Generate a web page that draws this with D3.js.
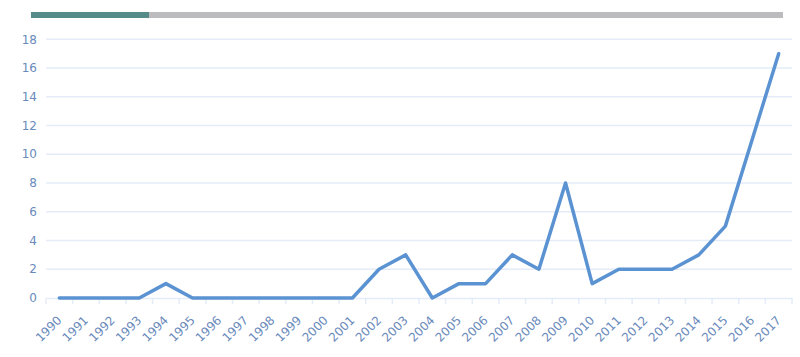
<!DOCTYPE html>
<html><head><meta charset="utf-8">
<script src="https://cdn.jsdelivr.net/npm/d3@7"></script>
<style>body{margin:0;background:#fff}svg{display:block}</style>
</head><body>
<script>
const years = ["1990","1991","1992","1993","1994","1995","1996","1997","1998","1999","2000","2001","2002","2003","2004","2005","2006","2007","2008","2009","2010","2011","2012","2013","2014","2015","2016","2017"];
const values = [0,0,0,0,1,0,0,0,0,0,0,0,2,3,0,1,1,3,2,8,1,2,2,2,3,5,11,17];
const yTicks = [0,2,4,6,8,10,12,14,16,18];

(function(){
const W=800,H=357;
const svg=d3.select("body").append("svg").attr("width",W).attr("height",H);
const mLeft=46,mRight=792,mTop=39.3,mBottom=298;
const x=d3.scaleBand().domain(years).range([mLeft,mRight]);
const y=d3.scaleLinear().domain([0,18]).range([mBottom,mTop]);

// top progress bar
svg.append("rect").attr("x",31).attr("y",12).attr("width",752).attr("height",6).attr("fill","#bcbcbe");
svg.append("rect").attr("x",31).attr("y",12).attr("width",118).attr("height",6).attr("fill","#558c8a");

// grid
svg.append("g").selectAll("line").data(yTicks.filter(d=>d>0)).join("line")
 .attr("x1",mLeft).attr("x2",mRight).attr("y1",d=>y(d)).attr("y2",d=>y(d))
 .attr("stroke","#e4ecf8").attr("stroke-width",1.5);

// y labels
svg.append("g").selectAll("text").data(yTicks).join("text")
 .attr("x",37).attr("y",d=>y(d)).attr("dy","0.35em").attr("text-anchor","end")
 .attr("font-family","DejaVu Sans").attr("font-size",12).attr("fill","#6a8abb").text(d=>d);

// x axis
const xa=svg.append("g").attr("transform",`translate(0,${mBottom})`)
 .call(d3.axisBottom(x).tickSize(0).tickFormat(""));
xa.select(".domain").attr("stroke","#e4ecf8").attr("stroke-width",1.5);
const bounds=years.map(d=>x(d)).concat([mRight]);
xa.selectAll("line.b").data(bounds).join("line").attr("class","b")
 .attr("x1",d=>d).attr("x2",d=>d).attr("y1",0).attr("y2",6)
 .attr("stroke","#e4ecf8").attr("stroke-width",1.5);
svg.append("g").selectAll("text").data(years).join("text")
 .attr("transform",d=>`translate(${x(d)+x.bandwidth()/2+3},${mBottom+23}) rotate(-45)`)
 .attr("text-anchor","end")
 .attr("font-family","DejaVu Sans").attr("font-size",12).attr("fill","#6a8abb").text(d=>d);

// line
const line=d3.line().x((d,i)=>x(years[i])+x.bandwidth()/2).y(d=>y(d));
svg.append("path").datum(values).attr("d",line).attr("fill","none")
 .attr("stroke","#5b93d2").attr("stroke-width",3.5)
 .attr("stroke-linejoin","round").attr("stroke-linecap","round");
})();
</script>
</body></html>
